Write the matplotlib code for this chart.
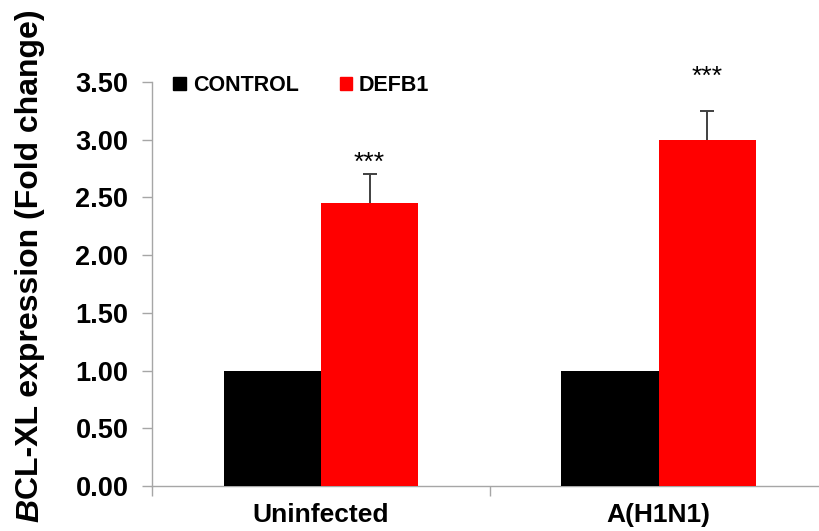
import numpy as np
import matplotlib
matplotlib.use("Agg")
import matplotlib.pyplot as plt
from matplotlib.patches import Patch

plt.rcParams['font.family'] = ['Liberation Sans', 'DejaVu Sans']

# fold change data
groups = ["Uninfected", "A(H1N1)"]
control = [1.00, 1.00]
defb1 = [2.45, 3.00]
defb1_err = [0.25, 0.25]
signif = ["***", "***"]
star_y = [2.80, 3.54]
y_ticks = [0.0, 0.5, 1.0, 1.5, 2.0, 2.5, 3.0, 3.5]

fig = plt.figure(figsize=(8.19, 5.31), dpi=100)
ax = fig.add_axes([0.1856, 0.0847, 0.825, 0.761])

x = np.arange(len(groups))
w = 0.288
axis_grey = "#a6a6a6"

ax.bar(x - w / 2, control, width=w, color="black", label="CONTROL", zorder=3)
ax.bar(x + w / 2, defb1, width=w, color="#ff0000", label="DEFB1", zorder=3)
# error bars drawn behind the bars so only the upper half shows
ax.errorbar(x + w / 2, defb1, yerr=defb1_err,
            fmt="none", ecolor="#404040", elinewidth=1.4, capsize=5,
            capthick=1.4, zorder=2)

for xi, s, sy in zip(x, signif, star_y):
    ax.text(xi + w / 2, sy, s, ha="center", va="center", fontsize=19,
            clip_on=False)

ax.set_xlim(-0.5, 1.5)
ax.set_ylim(0, 3.5)
ax.set_yticks(y_ticks)
ax.set_yticklabels([f"{v:.2f}" for v in y_ticks], fontsize=19.5, fontweight="bold")
ax.set_xticks(x)
ax.set_xticklabels(groups, fontsize=19, fontweight="bold")
ax.set_xticks([-0.5, 0.5, 1.5], minor=True)
ax.tick_params(axis="x", which="major", length=0, pad=12)
ax.tick_params(axis="x", which="minor", length=7, color=axis_grey, width=1)
ax.tick_params(axis="y", length=7, color=axis_grey, width=1, pad=10)

for side in ["top", "right"]:
    ax.spines[side].set_visible(False)
for side in ["left", "bottom"]:
    ax.spines[side].set_color(axis_grey)
    ax.spines[side].set_linewidth(1)

# y label: only the leading "B" is italic
ylab_x = 0.037
t1 = fig.text(ylab_x, 0.017, "B", rotation=90, ha="center", va="bottom",
              fontsize=23, fontweight="bold", fontstyle="italic")
fig.canvas.draw()
bb = t1.get_window_extent().transformed(fig.transFigure.inverted())
fig.text(ylab_x, bb.y1, "CL-XL expression (Fold change)", rotation=90,
         ha="center", va="bottom", fontsize=23, fontweight="bold")

handles = [Patch(color="black", label="CONTROL"),
           Patch(color="#ff0000", label="DEFB1")]
ax.legend(handles=handles, loc="upper left", bbox_to_anchor=(0.003, 1.065),
          ncol=2, frameon=False, handlelength=0.6, handleheight=0.6,
          handletextpad=0.3, columnspacing=1.9,
          prop={"weight": "bold", "size": 15.5})

fig.savefig("out.png", dpi=100)
